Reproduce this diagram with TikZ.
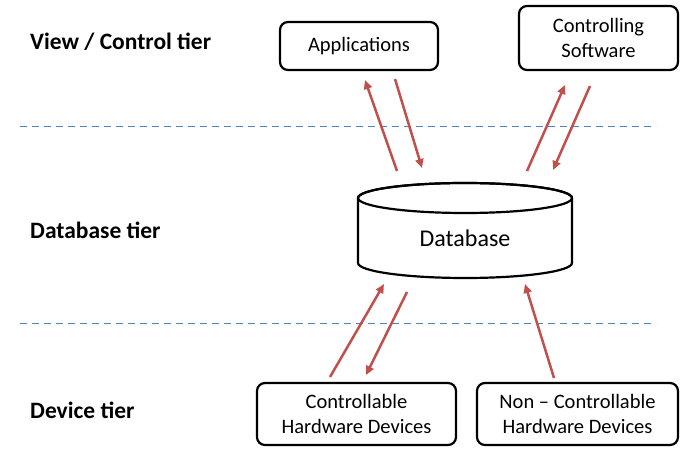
\documentclass[tikz,border=0pt]{standalone}
\usepackage{fontspec}
\setmainfont{Carlito}
\usetikzlibrary{arrows.meta}
\definecolor{arrred}{HTML}{C0504D}
\definecolor{dashblue}{HTML}{4F81BD}
\begin{document}
\begin{tikzpicture}[x=1pt,y=-1pt,
  box/.style={draw=black,line width=2.2pt,rounded corners=8pt,align=center,font=\fontsize{20.5}{25.5}\selectfont,inner sep=0pt},
  tier/.style={anchor=west,font=\bfseries\fontsize{23.5}{27}\selectfont,inner sep=0pt},
  link/.style={draw=arrred,line width=2.5pt,-{Triangle[length=9pt,width=8pt]}},
  divider/.style={draw=dashblue,line width=1pt,dash pattern=on 7pt off 5pt}]
\useasboundingbox (0,0) rectangle (683,457);
% tier labels
\node[tier] (t1) at (30,42) {View / Control tier};
\node[tier] (t2) at (30,230) {Database tier};
\node[tier] (t3) at (30,410) {Device tier};
% dividers
\coordinate (d1a) at (20,127); \coordinate (d1b) at (656,127);
\coordinate (d2a) at (20,323); \coordinate (d2b) at (656,323);
\draw[divider] (d1a) -- (d1b);
\draw[divider] (d2a) -- (d2b);
% boxes
\node[box,minimum width=158pt,minimum height=48pt] (app) at (359,46) {Applications};
\node[box,minimum width=159pt,minimum height=64pt] (cs) at (598.5,38) {Controlling\\Software};
\node[box,minimum width=199pt,minimum height=62pt] (ctrl) at (356.5,414) {Controllable\\Hardware Devices};
\node[box,minimum width=201pt,minimum height=62pt] (nctrl) at (577.5,414) {Non -- Controllable\\Hardware Devices};
% database cylinder
\draw[line width=2.2pt,fill=white] (358,198) -- (358,263) arc[start angle=180,end angle=0,x radius=107,y radius=15] -- (572,198) arc[start angle=0,end angle=-180,x radius=107,y radius=15] -- cycle;
\draw[line width=2.2pt] (465,198) ellipse[x radius=107,y radius=15];
\node[font=\fontsize{24}{28}\selectfont,inner sep=0pt] (db) at (465,238) {Database};
% arrow end points
\coordinate (a1s) at (397,171); \coordinate (a1e) at (365,80);
\coordinate (a2s) at (395,79);  \coordinate (a2e) at (422,168);
\coordinate (a3s) at (527,171); \coordinate (a3e) at (565,85);
\coordinate (a4s) at (590,86);  \coordinate (a4e) at (553,170);
\coordinate (a5s) at (330,377); \coordinate (a5e) at (384,284);
\coordinate (a6s) at (407,292); \coordinate (a6e) at (366,375);
\coordinate (a7s) at (554,378); \coordinate (a7e) at (525,284);
\draw[link] (a1s) -- (a1e);
\draw[link] (a2s) -- (a2e);
\draw[link] (a3s) -- (a3e);
\draw[link] (a4s) -- (a4e);
\draw[link] (a5s) -- (a5e);
\draw[link] (a6s) -- (a6e);
\draw[link] (a7s) -- (a7e);
\end{tikzpicture}
\end{document}
